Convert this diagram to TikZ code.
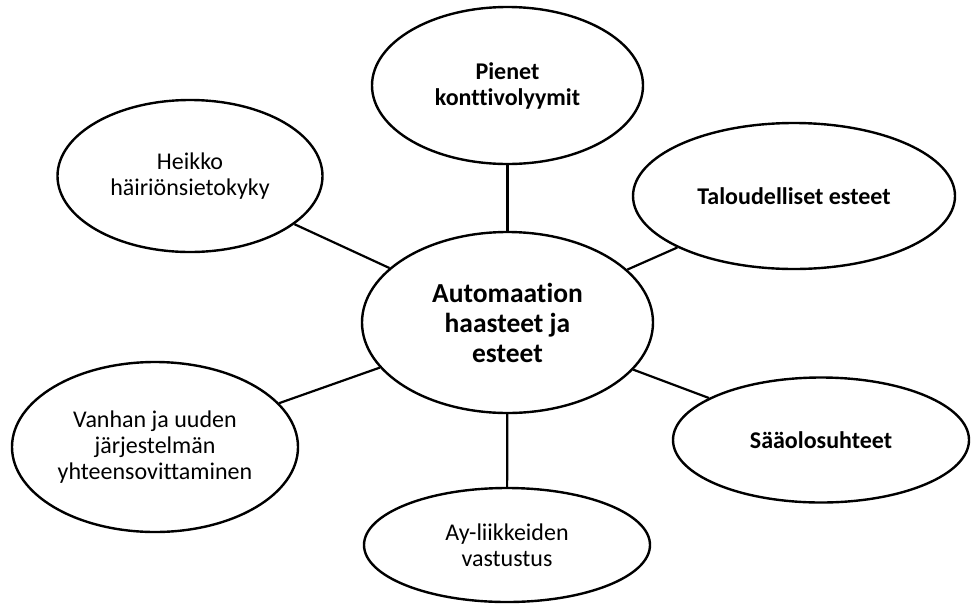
\documentclass[tikz,border=0pt]{standalone}
\usepackage{fontspec}
\setmainfont{Carlito}[RawFeature=-liga]
\usetikzlibrary{shapes.geometric}
\tikzset{
  bubble/.style={ellipse, draw=black, line width=2.4pt, fill=white, inner sep=0pt, align=center,
    font=\fontsize{24}{26}\selectfont},
  boldbubble/.style={bubble, font=\fontsize{24}{26}\selectfont\bfseries},
  hub/.style={bubble, font=\fontsize{27.5}{30}\selectfont\bfseries},
  spoke/.style={draw=black, line width=2.2pt},
}
\begin{document}
\begin{tikzpicture}[x=1pt, y=-1pt]
\useasboundingbox (0,0) rectangle (971,603);
\node[hub, minimum width=291pt, minimum height=181pt] (hub) at (507.5,322.5) {Automaation\\haasteet ja\\esteet};
\node[boldbubble, minimum width=271pt, minimum height=157pt] (top) at (507.5,85.5) {Pienet\\konttivolyymit};
\node[bubble, minimum width=265pt, minimum height=152pt] (tl) at (190,176) {Heikko\\häiriönsietokyky};
\node[boldbubble, minimum width=322pt, minimum height=146pt] (tr) at (794,196) {Taloudelliset esteet};
\node[boldbubble, minimum width=296pt, minimum height=125pt] (br) at (821,440) {Sääolosuhteet};
\node[bubble, minimum width=286pt, minimum height=114pt] (bot) at (507,545) {Ay-liikkeiden\\vastustus};
\node[bubble, minimum width=286pt, minimum height=170pt] (bl) at (155,447) {Vanhan ja uuden\\järjestelmän\\yhteensovittaminen};
\draw[spoke] (hub) -- (top);
\draw[spoke] (hub) -- (tl);
\draw[spoke] (hub) -- (tr);
\draw[spoke] (hub) -- (br);
\draw[spoke] (hub) -- (bot);
\draw[spoke] (hub) -- (bl);
\end{tikzpicture}
\end{document}
